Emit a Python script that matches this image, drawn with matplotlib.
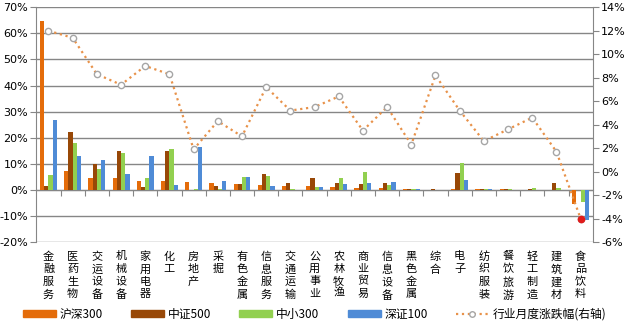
import numpy as np
import matplotlib
matplotlib.use('Agg')
import matplotlib.pyplot as plt
from matplotlib.patches import Patch
from matplotlib.lines import Line2D

plt.rcParams['font.family'] = ['Noto Sans CJK SC', 'DejaVu Sans']

hangye = ['金融服务', '医药生物', '交运设备', '机械设备', '家用电器', '化工', '房地产',
          '采掘', '有色金属', '信息服务', '交通运输', '公用事业', '农林牧渔', '商业贸易',
          '信息设备', '黑色金属', '综合', '电子', '纺织服装', '餐饮旅游', '轻工制造',
          '建筑建材', '食品饮料']

hs300 = [64.9, 7.3, 4.6, 4.6, 3.4, 3.4, 3.1, 2.7, 2.3, 1.9, 1.5, 1.5, 1.1, 0.8,
         0.8, 0.3, 0.1, 0.2, 0.3, 0.3, 0.0, 0.0, -5.6]
zz500 = [1.5, 22.0, 9.8, 14.9, 1.1, 14.9, 0.1, 1.5, 2.3, 6.1, 2.7, 4.6, 2.7, 2.3,
         2.7, 0.3, 0.3, 6.5, 0.3, 0.3, 0.3, 2.8, 0.0]
zx300 = [5.7, 18.1, 8.0, 14.3, 4.6, 15.7, 0.5, 0.4, 5.0, 5.4, 0.4, 1.1, 4.6, 6.9,
         1.9, 0.3, 0.1, 10.3, 0.3, 0.3, 0.7, 0.7, -4.7]
sz100 = [26.6, 13.0, 11.5, 6.1, 13.0, 1.9, 16.6, 3.4, 5.0, 1.5, 0.1, 1.1, 2.3, 2.7,
         3.1, 0.3, 0.1, 3.8, 0.3, 0.1, 0.1, 0.1, -11.7]
zhangdie = [12.0, 11.4, 8.3, 7.4, 9.0, 8.3, 1.9, 4.3, 3.0, 7.2, 5.2, 5.5, 6.4, 3.5,
            5.5, 2.3, 8.2, 5.2, 2.6, 3.6, 4.6, 1.7, -4.0]

cores = ['#E46C0A', '#984807', '#92D050', '#4F8BD6']
nomes = ['沪深300', '中证500', '中小300', '深证100']
cinza = '#868686'

W, H = 629, 328
fig = plt.figure(figsize=(W / 100, H / 100), dpi=100)
ax = fig.add_axes([36.4 / W, (H - 242) / H, (592.7 - 36.4) / W, (242 - 7.3) / H])

x = np.arange(len(hangye))
w = 0.175
for k, serie in enumerate([hs300, zz500, zx300, sz100]):
    ax.bar(x + (k - 1.5) * w, serie, w, color=cores[k], zorder=3)

ax.set_xlim(-0.5, len(hangye) - 0.5)
ax.set_ylim(-20, 70)
ax.set_yticks(range(-20, 71, 10))
ax.set_yticklabels([f'{v}%' for v in range(-20, 71, 10)], fontsize=8, family='DejaVu Sans')
ax.grid(axis='y', color=cinza, lw=1, zorder=0)
ax.tick_params(axis='y', colors=cinza, labelcolor='black', length=4, pad=2)

for s in ['top', 'right']:
    ax.spines[s].set_visible(False)
ax.spines['left'].set_color(cinza)
ax.spines['bottom'].set_position(('data', 0))
ax.spines['bottom'].set_color(cinza)
ax.set_xticks(np.arange(0.5, len(hangye) - 0.5, 1))
ax.set_xticklabels([])
ax.tick_params(axis='x', colors=cinza, length=4)

# rótulos verticais, um caractere por linha
for i, nome in enumerate(hangye):
    ax.text(i, -0.04, '\n'.join(nome), transform=ax.get_xaxis_transform(),
            ha='center', va='top', fontsize=8, linespacing=1.3)

ax2 = ax.twinx()
ax2.plot(x, zhangdie, ls=':', color='#E8924A', lw=1.6, marker='o', ms=4.5,
         mfc='white', mec='#A6A6A6', mew=1, zorder=4)
ax2.plot(x[-1], zhangdie[-1], 'o', ms=4.5, color='#E01B1B', zorder=5)
ax2.set_ylim(-6, 14)
ax2.set_yticks(range(-6, 15, 2))
ax2.set_yticklabels([f'{v}%' for v in range(-6, 15, 2)], fontsize=8, family='DejaVu Sans')
ax2.tick_params(axis='y', colors=cinza, labelcolor='black', length=4, pad=2)
for s in ['top', 'left', 'bottom']:
    ax2.spines[s].set_visible(False)
ax2.spines['right'].set_color(cinza)

handles = [Patch(color=c) for c in cores]
handles.append(Line2D([], [], ls=':', color='#E8924A', lw=1.6, marker='o', ms=4,
                      mfc='white', mec='#A6A6A6'))
fig.legend(handles, nomes + ['行业月度涨跌幅(右轴)'], loc='lower center', ncol=5,
           bbox_to_anchor=(0.5, -0.01), frameon=False, fontsize=8.5, handlelength=2.8,
           handleheight=0.55, handletextpad=0.3, columnspacing=2.4)

fig.savefig('out.png', dpi=100)
